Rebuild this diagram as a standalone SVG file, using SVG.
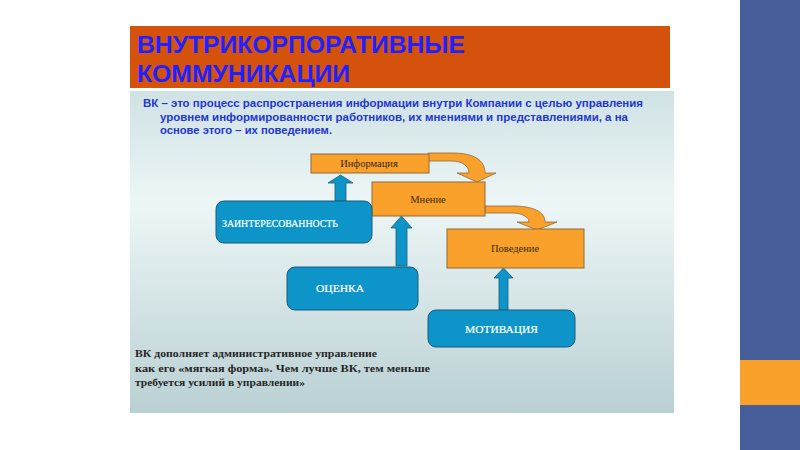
<svg xmlns="http://www.w3.org/2000/svg" width="800" height="450" viewBox="0 0 800 450">
<defs>
<linearGradient id="panel" x1="0" y1="0" x2="0" y2="1">
<stop offset="0" stop-color="#cfe2e4"/>
<stop offset="0.35" stop-color="#edf6f6"/>
<stop offset="1" stop-color="#b9d0d3"/>
</linearGradient>
<style>
.title{font-family:"Liberation Sans",Arial,sans-serif;font-weight:bold;font-size:24px;fill:#1f22ff}
.desc{font-family:"Liberation Sans",Arial,sans-serif;font-weight:bold;font-size:11.5px;fill:#2236d4}
.note{font-family:"Liberation Serif","Times New Roman",serif;font-weight:bold;font-size:11px;fill:#262626}
.obox{fill:#f9a12b;stroke:#8e6a3c;stroke-width:1}
.otxt{font-family:"Liberation Serif","Times New Roman",serif;font-size:10.5px;fill:#3a2a10;text-anchor:middle}
.bbox{fill:#0d95c9;stroke:#1c5a7a;stroke-width:1}
.btxt{font-family:"Liberation Serif","Times New Roman",serif;font-size:10.5px;fill:#ffffff;stroke:#ffffff;stroke-width:0.2}
.oarr{fill:#f9a12b;stroke:#8e6a3c;stroke-width:0.8}
.barr{fill:#0d95c9;stroke:#1c5a7a;stroke-width:0.8}
</style>
</defs>
<rect x="0" y="0" width="800" height="450" fill="#ffffff"/>
<rect x="740" y="0" width="60" height="450" fill="#465e9a"/>
<rect x="740" y="360" width="60" height="45" fill="#f9a12b"/>
<rect x="130" y="26" width="540" height="62" fill="#d4520c"/>
<text class="title" x="137" y="53" textLength="328" lengthAdjust="spacingAndGlyphs">ВНУТРИКОРПОРАТИВНЫЕ</text>
<text class="title" x="137" y="82" textLength="213" lengthAdjust="spacingAndGlyphs">КОММУНИКАЦИИ</text>
<rect x="130" y="91" width="544" height="322" fill="url(#panel)"/>
<text class="desc" x="143" y="107" textLength="500" lengthAdjust="spacingAndGlyphs">ВК – это процесс распространения информации внутри Компании с целью управления</text>
<text class="desc" x="160" y="120.5" textLength="468" lengthAdjust="spacingAndGlyphs">уровнем информированности работников, их мнениями и представлениями, а на</text>
<text class="desc" x="160" y="134" textLength="172" lengthAdjust="spacingAndGlyphs">основе этого – их поведением.</text>
<g id="connectors">
<path class="oarr" d="M428,153 L452,153 C474,153 485,160 485,173 L496,173 L477,182 L457,173 L469,173 C469,166 462,161 452,161 L428,161 Z"/>
<path class="oarr" d="M485,206 L512,206 C534,206 545,212 545,222 L557,222 L537,230 L517,222 L529,222 C529,217 522,213 512,213 L485,213 Z"/>
<path class="barr" d="M335,201 L335,183 L328,183 L340.5,175 L353,183 L346,183 L346,201 Z"/>
<path class="barr" d="M396,266 L396,228 L391,228 L401.5,216 L412,228 L407,228 L407,266 Z"/>
<path class="barr" d="M499,310 L499,278 L494,278 L503.5,268 L513,278 L508,278 L508,310 Z"/>
</g>
<g id="info"><rect class="obox" x="311" y="154" width="118" height="19"/><text class="otxt" x="369" y="167">Информация</text></g>
<g id="opinion"><rect class="obox" x="372" y="182" width="113" height="34"/><text class="otxt" x="428" y="203">Мнение</text></g>
<g id="behavior"><rect class="obox" x="447" y="229" width="137" height="39"/><text class="otxt" x="515" y="252">Поведение</text></g>
<g id="interest"><rect class="bbox" x="216" y="201" width="156" height="42" rx="8"/><text class="btxt" x="222" y="227" textLength="116" lengthAdjust="spacingAndGlyphs">ЗАИНТЕРЕСОВАННОСТЬ</text></g>
<g id="evaluation"><rect class="bbox" x="287" y="267" width="131" height="43" rx="8"/><text class="btxt" x="316" y="292" textLength="48" lengthAdjust="spacingAndGlyphs">ОЦЕНКА</text></g>
<g id="motivation"><rect class="bbox" x="428" y="310" width="147" height="37" rx="8"/><text class="btxt" x="465" y="333" textLength="73" lengthAdjust="spacingAndGlyphs">МОТИВАЦИЯ</text></g>
<text class="note" x="135" y="357" textLength="242" lengthAdjust="spacingAndGlyphs">ВК дополняет административное управление</text>
<text class="note" x="135" y="372" textLength="295" lengthAdjust="spacingAndGlyphs">как его «мягкая форма». Чем лучше ВК, тем меньше</text>
<text class="note" x="135" y="386" textLength="170" lengthAdjust="spacingAndGlyphs">требуется усилий в управлении»</text>
</svg>
